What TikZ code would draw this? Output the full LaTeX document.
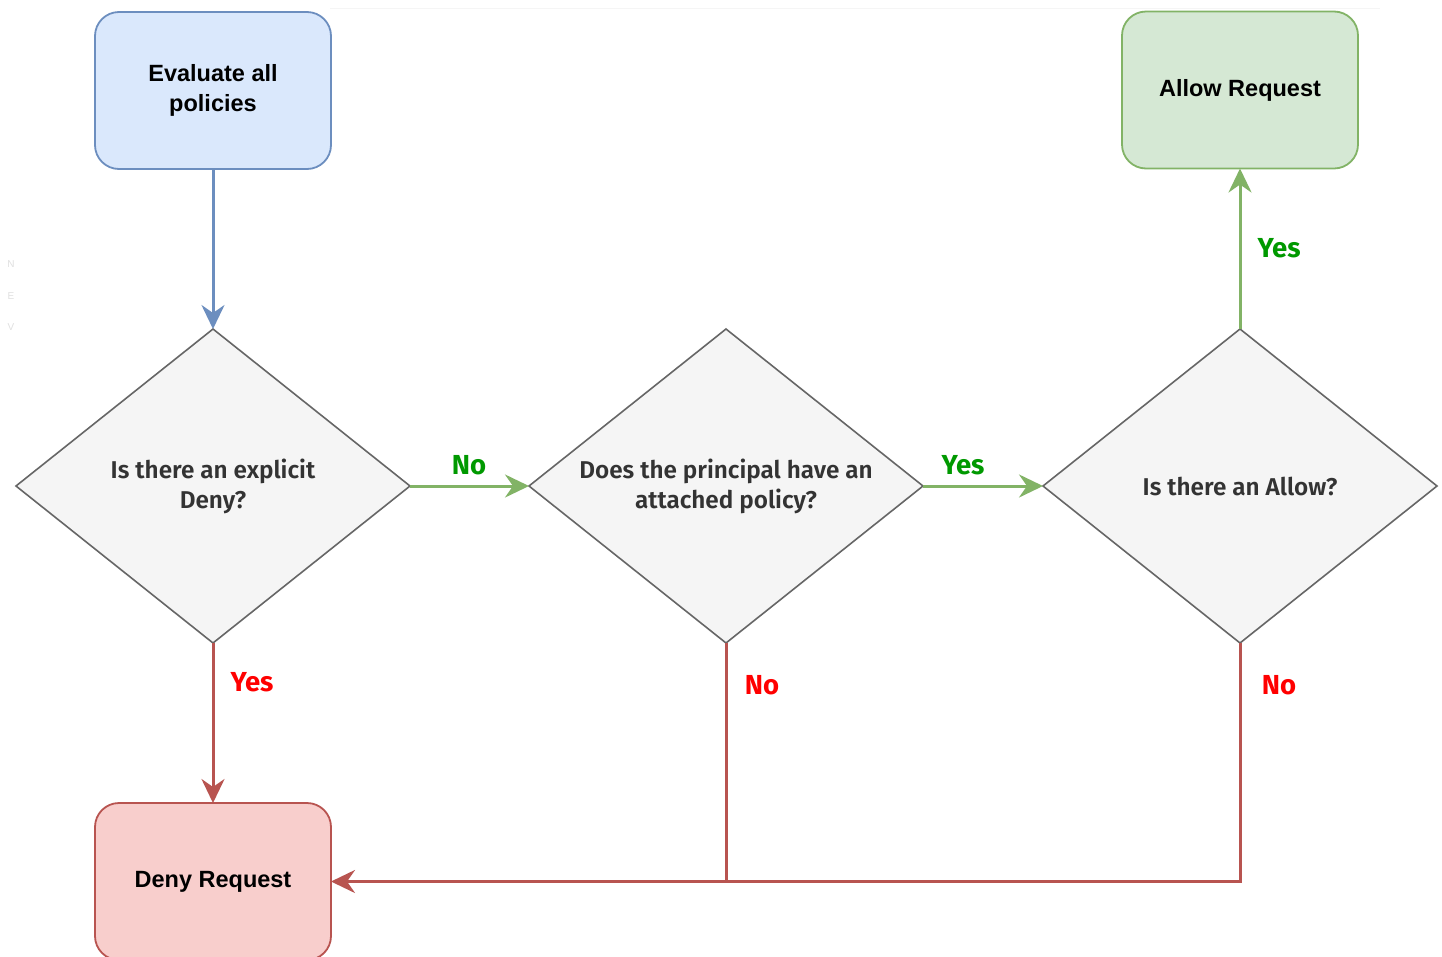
\documentclass[tikz,border=0pt]{standalone}
\usepackage{fontspec}
\setmainfont{Liberation Sans}
\newfontfamily\ember{Fira Sans SemiBold}
\newfontfamily\emberb{Fira Sans}
\usetikzlibrary{shapes.geometric,arrows.meta}
\definecolor{bluefill}{HTML}{DAE8FC}
\definecolor{bluedraw}{HTML}{6C8EBF}
\definecolor{greenfill}{HTML}{D5E8D4}
\definecolor{greendraw}{HTML}{82B366}
\definecolor{redfill}{HTML}{F8CECC}
\definecolor{reddraw}{HTML}{B85450}
\definecolor{dfill}{HTML}{F5F5F5}
\definecolor{ddraw}{HTML}{666666}
\definecolor{dtext}{HTML}{333333}
\definecolor{lgreen}{HTML}{009900}
\definecolor{lred}{HTML}{FF0000}
\tikzset{
  boxnode/.style={draw, line width=1.8pt, rounded corners=24pt, minimum width=236pt, minimum height=157pt, inner sep=0pt, outer sep=0pt, align=center, font=\bfseries\fontsize{23.5}{30}\selectfont, text=black},
  decision/.style={diamond, draw=ddraw, fill=dfill, line width=1.6pt, aspect=1.255, minimum width=394pt, minimum height=314pt, inner sep=0pt, outer sep=0pt, align=center, font=\ember\fontsize{24.3}{30}\selectfont, text=dtext},
  conn/.style={line width=3pt, -{Stealth[length=24pt,width=23pt,inset=8pt]}},
  lbl/.style={font=\emberb\bfseries\fontsize{27.5}{30}\selectfont, inner sep=0pt},
  faint/.style={text=black!12, font=\fontsize{10}{12}\selectfont, inner sep=0pt}
}
\begin{document}
\begin{tikzpicture}[x=1pt,y=-1pt]
\useasboundingbox[fill=white] (0,0) rectangle (1442,956);
\draw[black!4, line width=1pt] (330,8) -- (1380,8);
\node[faint] (fn) at (11,264) {N};
\node[faint] (fe) at (11,296) {E};
\node[faint] (fv) at (11,327) {V};

\node[boxnode, draw=bluedraw, fill=bluefill] (eval) at (213,90.5) {Evaluate all\\policies};
\node[boxnode, draw=greendraw, fill=greenfill] (allow) at (1240,90) {Allow Request};
\node[boxnode, draw=reddraw, fill=redfill] (deny) at (213,881.5) {Deny Request};

\node[decision] (d1) at (213,486) {Is there an explicit\\Deny?};
\node[decision] (d2) at (726,486) {Does the principal have an\\attached policy?};
\node[decision] (d3) at (1240,486) {Is there an Allow?};

\draw[conn, bluedraw] (eval.south) -- (d1.north);
\draw[conn, greendraw] (d1.east) -- (d2.west);
\draw[conn, greendraw] (d2.east) -- (d3.west);
\draw[conn, greendraw] (d3.north) -- (allow.south);
\draw[conn, reddraw] (d1.south) -- (deny.north);
\draw[conn, reddraw] (d3.south) |- (deny.east);
\draw[line width=3pt, reddraw] (d2.south) -- (d2.south |- deny.east);

\node[lbl, text=lgreen] (l1) at (469,465) {No};
\node[lbl, text=lgreen] (l2) at (963,465) {Yes};
\node[lbl, text=lgreen] (l3) at (1279,248) {Yes};
\node[lbl, text=lred] (l4) at (252,682) {Yes};
\node[lbl, text=lred] (l5) at (762,685) {No};
\node[lbl, text=lred] (l6) at (1279,685) {No};
\end{tikzpicture}
\end{document}
